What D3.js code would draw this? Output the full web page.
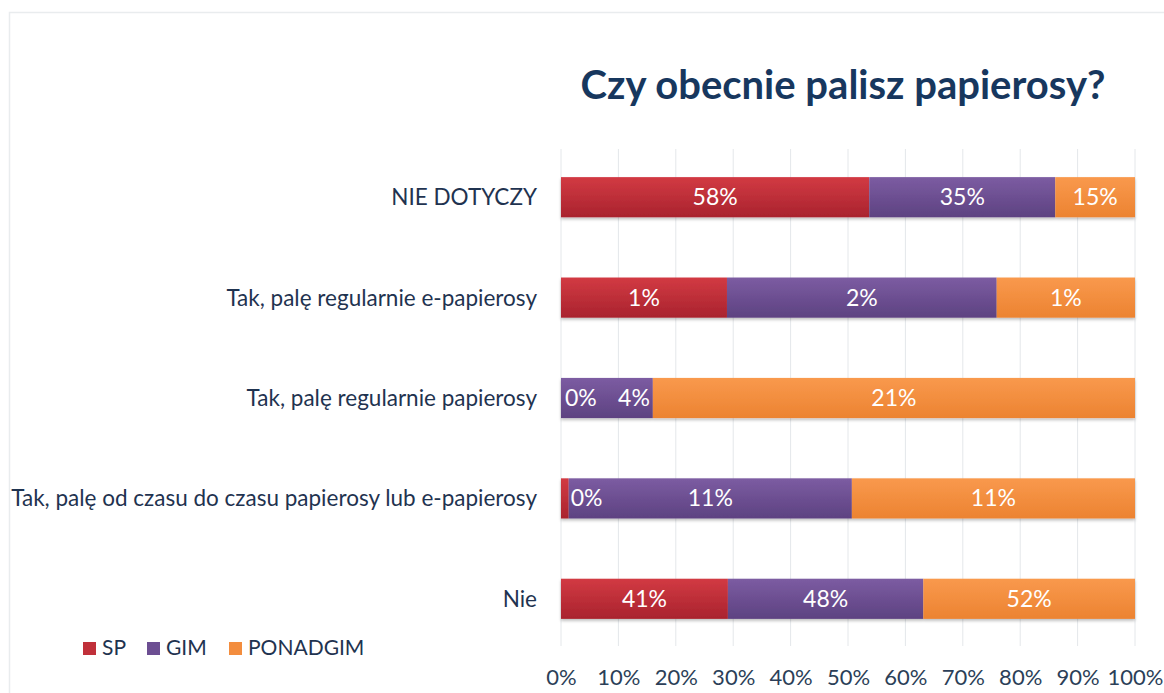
<!DOCTYPE html>
<html><head><meta charset="utf-8">
<script src="https://cdn.jsdelivr.net/npm/d3@7"></script>
<style>body{margin:0;background:#fff}svg{display:block}</style>
</head><body><svg id="c" width="1164" height="693"></svg>
<script>
const categories = ["NIE DOTYCZY", "Tak, palę regularnie e-papierosy", "Tak, palę regularnie papierosy", "Tak, palę od czasu do czasu papierosy lub e-papierosy", "Nie"];
const seriesNames = ["SP", "GIM", "PONADGIM"];
const SP = [58, 1.2, 0, 0.3, 41];
const GIM = [35, 1.95, 4, 11, 48];
const PONADGIM = [15, 1.0, 21, 11, 52];
const ticks = [0, 0.1, 0.2, 0.3, 0.4, 0.5, 0.6, 0.7, 0.8, 0.9, 1.0];
const colors = {SP: ["#d23a43", "#a9232e"], GIM: ["#7c5ca2", "#5d4281"], PONADGIM: ["#f9994d", "#ec8331"]};
const legendColors = {SP: "#c0303a", GIM: "#6c4e92", PONADGIM: "#f38d3e"};

const svg = d3.select("#c");
const W = 1164, H = 693;
const textCol = "#1f3350";
const font = "Lato, 'Open Sans', sans-serif";

// frame
svg.append("rect").attr("x", 9.5).attr("y", 12.5).attr("width", W + 10).attr("height", H + 10)
  .attr("fill", "#fff").attr("stroke", "#e9ecee").attr("stroke-width", 1.5);

const defs = svg.append("defs");
seriesNames.forEach(s => {
  const g = defs.append("linearGradient").attr("id", "g" + s).attr("x1", 0).attr("y1", 0).attr("x2", 0).attr("y2", 1);
  g.append("stop").attr("offset", "0%").attr("stop-color", colors[s][0]);
  g.append("stop").attr("offset", "100%").attr("stop-color", colors[s][1]);
});
const f = defs.append("filter").attr("id", "sh").attr("x", "-5%").attr("y", "-20%").attr("width", "110%").attr("height", "150%");
f.append("feDropShadow").attr("dx", 0).attr("dy", 2).attr("stdDeviation", 1.5).attr("flood-color", "#000").attr("flood-opacity", 0.25);

const x = d3.scaleLinear().domain([0, 1]).range([561, 1135]);
const y = d3.scaleBand().domain(categories).range([147, 649]).paddingInner(0.6).paddingOuter(0.3);

// gridlines
svg.append("g").selectAll("line").data(ticks).join("line")
  .attr("x1", d => x(d)).attr("x2", d => x(d)).attr("y1", 149).attr("y2", 646)
  .attr("stroke", "#e4e7ea").attr("stroke-width", 1);

// title
svg.append("text").attr("x", 843).attr("y", 99).attr("text-anchor", "middle")
  .attr("font-family", font).attr("font-weight", "bold").attr("font-size", 40)
  .attr("fill", "#17375e").text("Czy obecnie palisz papierosy?");

// data rows
const data = categories.map((c, i) => {
  const vals = {SP: SP[i], GIM: GIM[i], PONADGIM: PONADGIM[i]};
  const tot = SP[i] + GIM[i] + PONADGIM[i];
  let acc = 0;
  const segs = seriesNames.map(s => { const x0 = acc / tot; acc += vals[s]; return {s, v: vals[s], x0, x1: acc / tot, c}; });
  return {c, segs};
});

const rowG = svg.append("g").selectAll("g").data(data).join("g");
rowG.append("g").attr("filter", "url(#sh)").selectAll("rect").data(d => d.segs).join("rect")
  .attr("x", d => x(d.x0)).attr("width", d => Math.max(0, x(d.x1) - x(d.x0)))
  .attr("y", d => y(d.c)).attr("height", y.bandwidth())
  .attr("fill", d => "url(#g" + d.s + ")");

// labels
const fs = 23;
data.forEach(row => {
  let prevEnd = -Infinity;
  row.segs.forEach(sg => {
    const label = Math.round(sg.v) + "%";
    const px0 = x(sg.x0), px1 = x(sg.x1);
    const t = svg.append("text").attr("y", y(row.c) + y.bandwidth() / 2 + 8)
      .attr("font-family", font).attr("font-size", fs).attr("fill", "#fff").text(label);
    const w = t.node().getComputedTextLength();
    let cx = (px0 + px1) / 2;
    let start = cx - w / 2;
    if (px1 - px0 < w + 4) {
      start = Math.max(px0 + 4, px1 + 2);
    } else if (start < prevEnd + 8) {
      start = px1 - 3 - w;
    }
    t.attr("x", start);
    prevEnd = start + w;
  });
});

// category labels
svg.append("g").selectAll("text").data(categories).join("text")
  .attr("x", 537).attr("y", d => y(d) + y.bandwidth() / 2 + 8).attr("text-anchor", "end")
  .attr("font-family", font).attr("font-size", 22.5).attr("fill", textCol).text(d => d);

// x axis
const xAxis = d3.axisBottom(x).tickValues(ticks).tickFormat(d3.format(".0%")).tickSize(0).tickPadding(0);
const ax = svg.append("g").attr("transform", "translate(0,669)").call(xAxis);
ax.select(".domain").remove();
ax.selectAll("text").attr("font-family", font).attr("font-size", 22).attr("fill", "#2c3f58");

// legend
const lg = svg.append("g");
const legX = [83, 147, 229];
seriesNames.forEach((s, i) => {
  lg.append("rect").attr("x", legX[i]).attr("y", 642).attr("width", 13).attr("height", 13).attr("fill", legendColors[s]);
  lg.append("text").attr("x", legX[i] + 19).attr("y", 655).attr("font-family", font).attr("font-size", 21)
    .attr("fill", textCol).text(s);
});
</script></body></html>
